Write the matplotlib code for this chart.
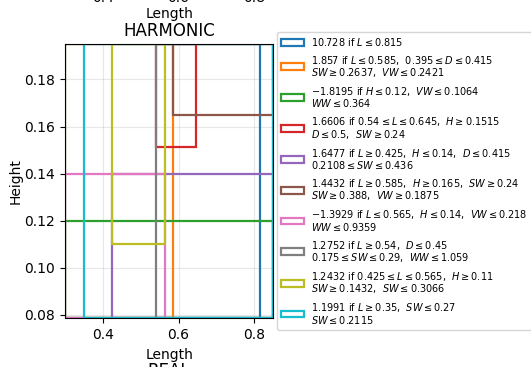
import matplotlib
matplotlib.use("Agg")
import matplotlib.pyplot as plt
import matplotlib.transforms as mtransforms
from matplotlib.patches import Rectangle

# rule boxes in (Length, Height); None = unbounded on that side
L_LOW = [None, None, None, 0.54, 0.425, 0.585, None, 0.54, 0.425, 0.35]
L_HIGH = [0.815, 0.585, None, 0.645, None, None, 0.565, None, 0.565, None]
H_LOW = [None, None, None, 0.1515, None, 0.165, None, None, 0.11, None]
H_HIGH = [None, None, 0.12, None, 0.14, None, 0.14, None, None, None]

RULE_LABELS = [
    r"$10.728$ if $L \leq 0.815$",
    r"$1.857$ if $L \leq 0.585$,  $0.395 \leq D \leq 0.415$" + "\n" + r"$SW \geq 0.2637$,  $VW \leq 0.2421$",
    r"$-1.8195$ if $H \leq 0.12$,  $VW \leq 0.1064$" + "\n" + r"$WW \leq 0.364$",
    r"$1.6606$ if $0.54 \leq L \leq 0.645$,  $H \geq 0.1515$" + "\n" + r"$D \leq 0.5$,  $SW \geq 0.24$",
    r"$1.6477$ if $L \geq 0.425$,  $H \leq 0.14$,  $D \leq 0.415$" + "\n" + r"$0.2108 \leq SW \leq 0.436$",
    r"$1.4432$ if $L \geq 0.585$,  $H \geq 0.165$,  $SW \geq 0.24$" + "\n" + r"$SW \geq 0.388$,  $VW \geq 0.1875$",
    r"$-1.3929$ if $L \leq 0.565$,  $H \leq 0.14$,  $VW \leq 0.218$" + "\n" + r"$WW \leq 0.9359$",
    r"$1.2752$ if $L \geq 0.54$,  $D \leq 0.45$" + "\n" + r"$0.175 \leq SW \leq 0.29$,  $WW \leq 1.059$",
    r"$1.2432$ if $0.425 \leq L \leq 0.565$,  $H \geq 0.11$" + "\n" + r"$SW \geq 0.1432$,  $SW \leq 0.3066$",
    r"$1.1991$ if $L \geq 0.35$,  $SW \leq 0.27$" + "\n" + r"$SW \leq 0.2115$",
]

X_RANGE = (0.3, 0.85)
Y_RANGE = (0.0785, 0.195)
X_TICKS = [0.4, 0.6, 0.8]

fig = plt.figure(figsize=(5.31, 3.67), dpi=100)
ax = fig.add_axes([0.1224, 0.1327, 0.392, 0.747])

colors = plt.rcParams["axes.prop_cycle"].by_key()["color"]
for i, label in enumerate(RULE_LABELS):
    x0 = L_LOW[i] if L_LOW[i] is not None else X_RANGE[0]
    x1 = L_HIGH[i] if L_HIGH[i] is not None else X_RANGE[1]
    y0 = H_LOW[i] if H_LOW[i] is not None else Y_RANGE[0]
    y1 = H_HIGH[i] if H_HIGH[i] is not None else Y_RANGE[1]
    ax.add_patch(Rectangle((x0, y0), x1 - x0, y1 - y0, fill=False,
                           edgecolor=colors[i % len(colors)], lw=1.6, label=label))

ax.set_xlim(*X_RANGE)
ax.set_ylim(*Y_RANGE)
ax.set_xticks(X_TICKS)
ax.grid(True, alpha=0.3)
ax.set_axisbelow(True)
ax.set_xlabel("Length")
ax.set_ylabel("Height", labelpad=1)
ax.set_title("HARMONIC")

leg = ax.legend(loc="upper left", bbox_to_anchor=(1.02, 1.045), borderaxespad=0,
                fontsize=7, handlelength=2.3, labelspacing=0.6)
for t in leg.get_texts():
    t.set_linespacing(0.95)

# bits of the neighbouring subplots that fall inside the crop
blend = mtransforms.blended_transform_factory(ax.transData, fig.transFigure)
for t in X_TICKS:
    ax.text(t, 1.006, f"{t:.1f}", transform=blend, ha="center", va="center",
            fontsize=10, clip_on=False)
fig.text(ax.get_position().x0 + ax.get_position().width / 2, 0.962, "Length",
         ha="center", va="center", fontsize=10)
fig.text(ax.get_position().x0 + ax.get_position().width / 2, -0.012, "REAL",
         ha="center", va="center", fontsize=12)

fig.savefig("out.png", dpi=100)
